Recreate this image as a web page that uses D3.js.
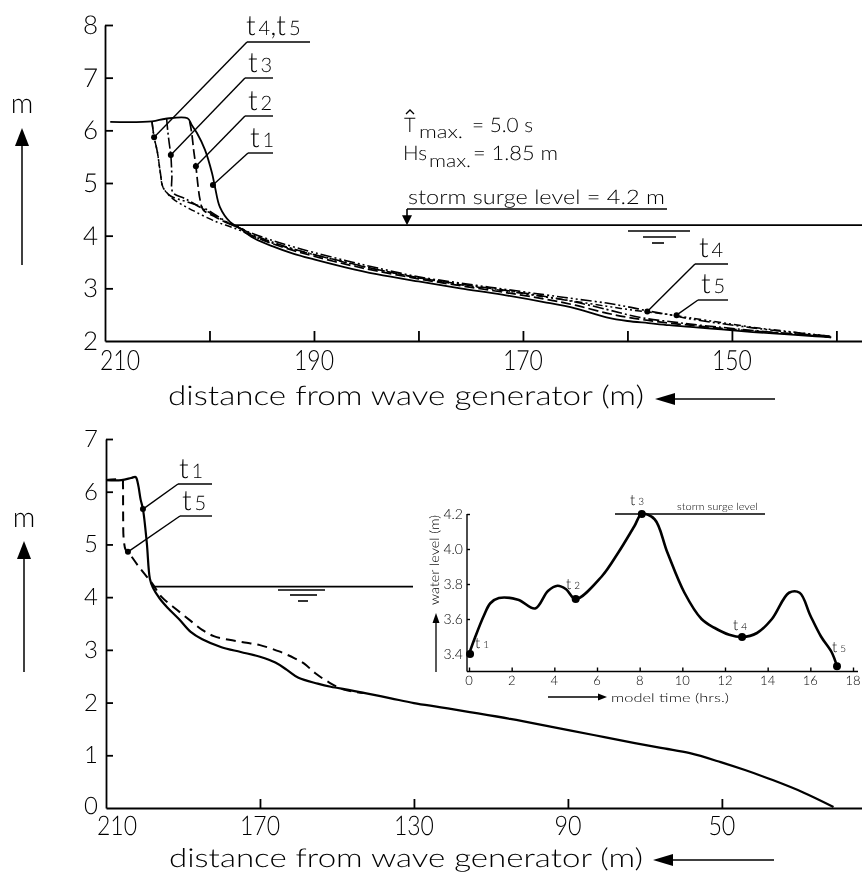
<!DOCTYPE html>
<html><head><meta charset="utf-8">
<script src="https://cdn.jsdelivr.net/npm/d3@7"></script>
<style>
body{margin:0;background:#fff}
svg{display:block;will-change:transform}
text{font-family:Lato,"Open Sans","Liberation Sans",Arial,sans-serif;font-weight:300;fill:#000;text-rendering:geometricPrecision}
</style></head><body>
<svg id="c" width="862" height="875"></svg>
<script>
// ================= DATA =================
// ---- Top panel: profiles (distance from wave generator [m] -> level [m]) ----
const topXTicks = [200, 190, 180, 170, 160, 150, 140];
const topXLabels = [210, 190, 170, 150];
const topYTicks = [2, 3, 4, 5, 6, 7, 8];
const surgeLevel = 4.2;

const topSlopeDist = [196, 194, 192, 190, 187, 184, 180, 176, 172, 168, 165, 162, 160, 158, 156, 154, 151, 148, 145, 142, 140.5];
const topT1SlopeLevel = [3.98, 3.80, 3.66, 3.55, 3.40, 3.27, 3.13, 3.00, 2.88, 2.74, 2.62, 2.45, 2.38, 2.34, 2.30, 2.27, 2.22, 2.17, 2.13, 2.09, 2.07];
const topT2SlopeLevel = [4.01, 3.85, 3.72, 3.61, 3.46, 3.33, 3.18, 3.05, 2.93, 2.80, 2.68, 2.53, 2.45, 2.39, 2.34, 2.30, 2.24, 2.19, 2.14, 2.10, 2.07];
const topT3SlopeLevel = [4.03, 3.88, 3.75, 3.64, 3.50, 3.36, 3.20, 3.08, 2.97, 2.85, 2.74, 2.60, 2.50, 2.42, 2.37, 2.32, 2.26, 2.20, 2.15, 2.11, 2.08];
const topT4SlopeLevel = [4.05, 3.91, 3.79, 3.68, 3.53, 3.39, 3.22, 3.10, 2.99, 2.88, 2.80, 2.72, 2.65, 2.57, 2.50, 2.42, 2.33, 2.25, 2.18, 2.12, 2.09];
const topT5SlopeLevel = [4.00, 3.86, 3.74, 3.64, 3.49, 3.36, 3.20, 3.07, 2.96, 2.84, 2.75, 2.66, 2.60, 2.55, 2.50, 2.44, 2.35, 2.26, 2.19, 2.12, 2.09];

const topT1HeadDist  = [209.5, 205.5, 204.2, 202.1, 201.7, 201.2, 200.43, 199.76, 199.47, 199.0, 198.04, 197.08];
const topT1HeadLevel = [6.16, 6.17, 6.22, 6.23, 6.10, 5.95, 5.63, 5.19, 4.92, 4.54, 4.26, 4.14];
const topT2HeadDist  = [201.9, 201.7, 201.5, 201.3, 201.1, 200.9, 200.6, 199.4, 198.3, 197.08];
const topT2HeadLevel = [6.17, 5.95, 5.60, 5.32, 4.95, 4.68, 4.49, 4.35, 4.24, 4.14];
const topT3HeadDist  = [204.1, 204.0, 203.85, 203.7, 203.6, 203.5, 202.3, 200.9, 199.3, 198.0, 197.08];
const topT3HeadLevel = [6.22, 6.00, 5.75, 5.53, 5.15, 4.82, 4.70, 4.54, 4.36, 4.22, 4.15];
const topT4HeadDist  = [205.5, 205.3, 205.0, 204.7, 204.45, 203.9, 203.5, 200.9, 199.3, 198.0, 197.08];
const topT4HeadLevel = [6.16, 5.87, 5.60, 5.19, 4.92, 4.78, 4.73, 4.56, 4.38, 4.22, 4.14];
const topT5HeadDist  = [205.5, 205.3, 205.0, 204.7, 204.45, 203.5, 201.5, 199.3, 198.0, 197.08];
const topT5HeadLevel = [6.16, 5.87, 5.60, 5.19, 4.92, 4.70, 4.47, 4.26, 4.17, 4.10];

// label dots on top panel [dist, level]
const topDotT1 = [199.67, 4.96];
const topDotT2 = [201.3, 5.32];
const topDotT3 = [203.7, 5.53];
const topDotT45 = [205.3, 5.87];
const topDotT4R = [158.1, 2.56];
const topDotT5R = [155.3, 2.49];

// ---- Bottom panel ----
const botXTicks = [170, 130, 90, 50];
const botXLabels = [210, 170, 130, 90, 50];
const botYTicks = [0, 1, 2, 3, 4, 5, 6, 7];

const botT1Dist  = [210, 206, 203.5, 202.3, 201.7, 201.0, 200.4, 199.4, 198.6, 197.8, 196, 194, 191, 188, 185, 180, 175, 170, 166, 163, 160, 155, 151.6, 147, 142.7, 136, 130, 123, 115.5, 105, 94.2, 83, 72.6, 65, 58.3, 50.3, 44, 36.8, 29, 21];
const botT1Level = [6.22, 6.22, 6.26, 6.28, 6.15, 5.85, 5.67, 5.03, 4.35, 4.18, 3.97, 3.80, 3.58, 3.34, 3.20, 3.05, 2.96, 2.87, 2.76, 2.62, 2.47, 2.36, 2.30, 2.24, 2.18, 2.08, 1.99, 1.91, 1.82, 1.69, 1.54, 1.38, 1.23, 1.13, 1.04, 0.87, 0.72, 0.53, 0.30, 0.02];
const botT5Dist  = [210, 205.7, 205.6, 205.55, 205.4, 204.9, 204.3, 201.5, 198.1, 195.5, 191.6, 188, 185, 182, 178, 174, 170, 165, 161, 158.5, 155.7, 152, 148.4, 145, 142.7];
const botT5Level = [6.22, 6.22, 6.15, 5.60, 5.10, 4.90, 4.86, 4.58, 4.27, 4.00, 3.76, 3.55, 3.38, 3.26, 3.19, 3.14, 3.09, 2.97, 2.84, 2.74, 2.56, 2.38, 2.25, 2.20, 2.18];
const botDotT1 = [200.4, 5.67];
const botDotT5 = [204.3, 4.86];

// ---- Inset: water level vs model time ----
const insetXTicks = [0, 2, 4, 6, 8, 10, 12, 14, 16, 18];
const insetYTicks = [3.4, 3.6, 3.8, 4.0, 4.2];
const insetTime  = [0, 0.3, 0.7, 1.0, 1.4, 2.3, 3.1, 3.7, 4.15, 4.55, 5.0, 6.2, 7.0, 7.75, 8.1, 8.7, 9.3, 10.1, 10.9, 11.5, 12.2, 12.8, 13.5, 14.2, 15.0, 15.5, 16.0, 16.5, 17.0, 17.25];
const insetLevel = [3.40, 3.50, 3.62, 3.69, 3.72, 3.71, 3.66, 3.76, 3.79, 3.77, 3.714, 3.84, 3.98, 4.13, 4.20, 4.17, 3.98, 3.75, 3.60, 3.55, 3.51, 3.497, 3.52, 3.60, 3.75, 3.75, 3.62, 3.50, 3.41, 3.33];
const insetMarkNames = ["1", "2", "3", "4", "5"];
const insetMarkTime  = [0.05, 5.0, 8.1, 12.8, 17.25];
const insetMarkLevel = [3.40, 3.714, 4.2, 3.497, 3.33];

// ================= DRAW =================
const svg = d3.select("#c");
const black = "#000";

const xTop = d3.scaleLinear().domain([210, 137.55]).range([105, 862]);
const yTop = d3.scaleLinear().domain([2, 8]).range([341, 25]);
const xBot = d3.scaleLinear().domain([210, 13.6]).range([106, 862]);
const yBot = d3.scaleLinear().domain([0, 7]).range([808, 439]);
const xIn = d3.scaleLinear().domain([0, 18]).range([469, 853]);
const yIn = d3.scaleLinear().domain([3.3, 4.2]).range([671.5, 514]);

function zipPts(a, b) { return a.map((v, i) => [v, b[i]]); }
function line(g, pts, xs, ys, w, dash) {
  const gen = d3.line().x(d => xs(d[0])).y(d => ys(d[1])).curve(d3.curveCatmullRom.alpha(0.5));
  g.append("path").attr("d", gen(pts)).attr("fill", "none").attr("stroke", black)
    .attr("stroke-width", w).attr("stroke-dasharray", dash || null)
    .attr("stroke-linejoin", "round").attr("stroke-linecap", "butt");
}
function seg(x1, y1, x2, y2, w) {
  svg.append("line").attr("x1", x1).attr("y1", y1).attr("x2", x2).attr("y2", y2)
    .attr("stroke", black).attr("stroke-width", w || 1.3);
}
function head(x, y, dir, len, hw) {
  let p;
  if (dir === "up") p = [[x, y], [x - hw, y + len], [x + hw, y + len]];
  if (dir === "down") p = [[x, y], [x - hw, y - len], [x + hw, y - len]];
  if (dir === "left") p = [[x, y], [x + len, y - hw], [x + len, y + hw]];
  if (dir === "right") p = [[x, y], [x - len, y - hw], [x - len, y + hw]];
  svg.append("path").attr("d", "M" + p.map(q => q.join(",")).join("L") + "Z").attr("fill", black);
}
function tLabel(x, y, sub, size, subSize, extra) {
  const t = svg.append("text").attr("x", x).attr("y", y).attr("font-size", size);
  t.append("tspan").text("t");
  t.append("tspan").attr("font-size", subSize).attr("dx", 3).text(sub);
  if (extra) {
    t.append("tspan").text(",");
    t.append("tspan").text("t");
    t.append("tspan").attr("font-size", subSize).attr("dx", 3).text(extra);
  }
  return t;
}
function dot(x, y, r) { svg.append("circle").attr("cx", x).attr("cy", y).attr("r", r).attr("fill", black); }

// ---------- TOP PANEL ----------
const gTop = svg.append("g");
const axT = gTop.append("g").attr("transform", "translate(0,341)")
  .call(d3.axisBottom(xTop).tickValues(topXTicks).tickSize(-10).tickSizeOuter(0));
const ayT = gTop.append("g").attr("transform", "translate(105,0)")
  .call(d3.axisLeft(yTop).tickValues(topYTicks.filter(v => v > 2)).tickSize(-8).tickSizeOuter(0));
[axT, ayT].forEach(a => { a.selectAll("text").remove(); a.selectAll("path,line").attr("stroke", black).attr("stroke-width", 1.8); });

topYTicks.forEach(v => {
  svg.append("text").attr("x", 98).attr("y", yTop(v) + 9).attr("text-anchor", "end").attr("font-size", 26).text(v);
});
topXLabels.forEach(v => {
  svg.append("text").attr("x", v === 210 ? 120 : xTop(v)).attr("y", 370).attr("text-anchor", "middle")
    .attr("font-size", 28).attr("textLength", 40).attr("lengthAdjust", "spacingAndGlyphs").text(v);
});

// profiles
line(gTop, zipPts(topT5HeadDist, topT5HeadLevel).concat(zipPts(topSlopeDist, topT5SlopeLevel)), xTop, yTop, 1.5, "7,3,2,3,2,3");
line(gTop, zipPts(topT4HeadDist, topT4HeadLevel).concat(zipPts(topSlopeDist, topT4SlopeLevel)), xTop, yTop, 1.6, "11,3,2,3,2,3");
line(gTop, zipPts(topT3HeadDist, topT3HeadLevel).concat(zipPts(topSlopeDist, topT3SlopeLevel)), xTop, yTop, 1.6, "11,3,2,3");
line(gTop, zipPts(topT2HeadDist, topT2HeadLevel).concat(zipPts(topSlopeDist, topT2SlopeLevel)), xTop, yTop, 1.7, "10,4");
line(gTop, zipPts(topT1HeadDist, topT1HeadLevel).concat(zipPts(topSlopeDist, topT1SlopeLevel)), xTop, yTop, 1.8, null);

// storm surge level (top)
seg(xTop(197.75), yTop(surgeLevel), 862, yTop(surgeLevel), 1.7);
seg(407, 209, 667, 209, 1.4);
seg(407, 209, 407, 218, 1.6);
head(407, yTop(surgeLevel), "down", 10, 5);
svg.append("text").attr("x", 408).attr("y", 204).attr("font-size", 20)
  .attr("textLength", 257).attr("lengthAdjust", "spacingAndGlyphs").text("storm  surge  level = 4.2 m");
seg(628, 231, 690, 231, 1.6); seg(643, 237, 676, 237, 1.6); seg(652, 243, 664, 243, 1.6);

// T max / Hs max
svg.append("text").attr("x", 404).attr("y", 132).attr("font-size", 20).text("T");
svg.append("path").attr("d", "M406,114L410,110L414,114").attr("fill", "none").attr("stroke", black).attr("stroke-width", 1.3);
svg.append("text").attr("x", 419).attr("y", 138).attr("font-size", 18).attr("textLength", 44).attr("lengthAdjust", "spacingAndGlyphs").text("max.");
svg.append("text").attr("x", 472).attr("y", 132).attr("font-size", 20).attr("textLength", 61).attr("lengthAdjust", "spacingAndGlyphs").text("= 5.0 s");
svg.append("text").attr("x", 403).attr("y", 160).attr("font-size", 20).attr("textLength", 24).attr("lengthAdjust", "spacingAndGlyphs").text("Hs");
svg.append("text").attr("x", 429).attr("y", 167).attr("font-size", 18).attr("textLength", 42).attr("lengthAdjust", "spacingAndGlyphs").text("max.");
svg.append("text").attr("x", 473).attr("y", 160).attr("font-size", 20).attr("textLength", 85).attr("lengthAdjust", "spacingAndGlyphs").text("= 1.85  m");

// label leaders (top)
function leader(lx, ly, lx2, dxv, dyv, xs, ys) {
  const px = xs(dxv), py = ys(dyv);
  seg(lx, ly, lx2, ly, 1.4);
  seg(lx, ly, px, py, 1.4);
  dot(px, py, 3);
}
leader(247, 42, 310, topDotT45[0], topDotT45[1], xTop, yTop);
leader(245, 78, 273, topDotT3[0], topDotT3[1], xTop, yTop);
leader(245, 116, 273, topDotT2[0], topDotT2[1], xTop, yTop);
leader(248, 153, 273, topDotT1[0], topDotT1[1], xTop, yTop);
leader(695, 264, 728, topDotT4R[0], topDotT4R[1], xTop, yTop);
leader(698, 300, 728, topDotT5R[0], topDotT5R[1], xTop, yTop);
tLabel(246, 35, "4", 28, 20, "5");
tLabel(248, 72, "3", 28, 20);
tLabel(248, 110, "2", 28, 20);
tLabel(250, 147, "1", 28, 20);
tLabel(699, 257, "4", 28, 20);
tLabel(701, 293, "5", 28, 20);

// m arrow (top)
svg.append("text").attr("x", 22).attr("y", 113).attr("text-anchor", "middle").attr("font-size", 28).text("m");
seg(22, 140, 22, 265, 1.5);
head(22, 128, "up", 18, 7);

// axis title (top)
svg.append("text").attr("x", 168).attr("y", 405).attr("font-size", 27).attr("textLength", 476)
  .attr("lengthAdjust", "spacingAndGlyphs").text("distance  from  wave  generator  (m)");
seg(670, 399, 775, 399, 1.6);
head(655, 399, "left", 20, 6);

// ---------- BOTTOM PANEL ----------
const gBot = svg.append("g");
const axB = gBot.append("g").attr("transform", "translate(0,808)")
  .call(d3.axisBottom(xBot).tickValues(botXTicks).tickSize(-9).tickSizeOuter(0));
const ayB = gBot.append("g").attr("transform", "translate(106,0)")
  .call(d3.axisLeft(yBot).tickValues(botYTicks.filter(v => v > 0)).tickSize(-7).tickSizeOuter(0));
[axB, ayB].forEach(a => { a.selectAll("text").remove(); a.selectAll("path,line").attr("stroke", black).attr("stroke-width", 1.8); });
botYTicks.forEach(v => {
  svg.append("text").attr("x", 98).attr("y", yBot(v) + (v === 0 ? 6 : 8)).attr("text-anchor", "end").attr("font-size", 24).text(v);
});
botXLabels.forEach(v => {
  svg.append("text").attr("x", v === 210 ? 117 : xBot(v)).attr("y", 835).attr("text-anchor", "middle")
    .attr("font-size", 27).attr("textLength", v < 100 ? 27 : 40).attr("lengthAdjust", "spacingAndGlyphs").text(v);
});

line(gBot, zipPts(botT5Dist, botT5Level), xBot, yBot, 2, "10,6");
line(gBot, zipPts(botT1Dist, botT1Level), xBot, yBot, 2.2, null);

seg(xBot(197.8), yBot(surgeLevel), 413, yBot(surgeLevel), 1.6);
seg(278, 590, 325, 590, 1.6); seg(290, 595, 317, 595, 1.6); seg(298, 601, 308, 601, 1.6);

leader(178, 484, 212, botDotT1[0], botDotT1[1], xBot, yBot);
leader(180, 516, 212, botDotT5[0], botDotT5[1], xBot, yBot);
tLabel(179, 478, "1", 28, 20);
tLabel(182, 510, "5", 28, 20);

svg.append("text").attr("x", 24).attr("y", 527).attr("text-anchor", "middle").attr("font-size", 28).text("m");
seg(24, 555, 24, 672, 1.5);
head(24, 541, "up", 18, 7);

svg.append("text").attr("x", 169).attr("y", 867).attr("font-size", 26).attr("textLength", 474)
  .attr("lengthAdjust", "spacingAndGlyphs").text("distance  from  wave  generator  (m)");
seg(668, 860, 774, 860, 1.6);
head(653, 860, "left", 20, 6);

// ---------- INSET ----------
const gIn = svg.append("g");
const axI = gIn.append("g").attr("transform", "translate(0,671.5)")
  .call(d3.axisBottom(xIn).tickValues(insetXTicks).tickSize(-4).tickSizeOuter(0));
const ayI = gIn.append("g").attr("transform", "translate(467,0)")
  .call(d3.axisLeft(yIn).tickValues(insetYTicks).tickSize(-3).tickSizeOuter(0));
[axI, ayI].forEach(a => { a.selectAll("text").remove(); a.selectAll("path,line").attr("stroke", black).attr("stroke-width", 1.4); });
axI.select(".domain").attr("d", "M467,0H858");
ayI.select(".domain").attr("d", "M0,514V671.5");
insetYTicks.forEach(v => {
  svg.append("text").attr("x", 463).attr("y", yIn(v) + 5).attr("text-anchor", "end").attr("font-size", 14).text(v.toFixed(1));
});
insetXTicks.forEach(v => {
  svg.append("text").attr("x", xIn(v)).attr("y", 685).attr("text-anchor", "middle").attr("font-size", 13).text(v);
});
line(gIn, zipPts(insetTime, insetLevel), xIn, yIn, 2.6, null);
seg(615, yIn(4.2), 765, yIn(4.2), 1.5);
svg.append("text").attr("x", 677).attr("y", 510).attr("font-size", 10).attr("textLength", 81)
  .attr("lengthAdjust", "spacingAndGlyphs").text("storm surge level");
insetMarkTime.forEach((t, i) => dot(xIn(t), yIn(insetMarkLevel[i]), 4));
const insetLabelPos = [[475, 648], [566, 589], [630, 505], [733, 630], [832, 652]];
insetMarkNames.forEach((n, i) => tLabel(insetLabelPos[i][0], insetLabelPos[i][1], n, 15, 10));
svg.append("text").attr("transform", "translate(439,560) rotate(-90)").attr("text-anchor", "middle")
  .attr("font-size", 13).attr("textLength", 90).attr("lengthAdjust", "spacingAndGlyphs").text("water  level  (m)");
seg(436, 622, 436, 672, 1.3);
head(436, 613, "up", 10, 3.5);
seg(548, 697, 600, 697, 1.3);
head(607, 697, "right", 9, 3.5);
svg.append("text").attr("x", 611).attr("y", 702).attr("font-size", 12).attr("textLength", 118)
  .attr("lengthAdjust", "spacingAndGlyphs").text("model time (hrs.)");
</script>
</body></html>
